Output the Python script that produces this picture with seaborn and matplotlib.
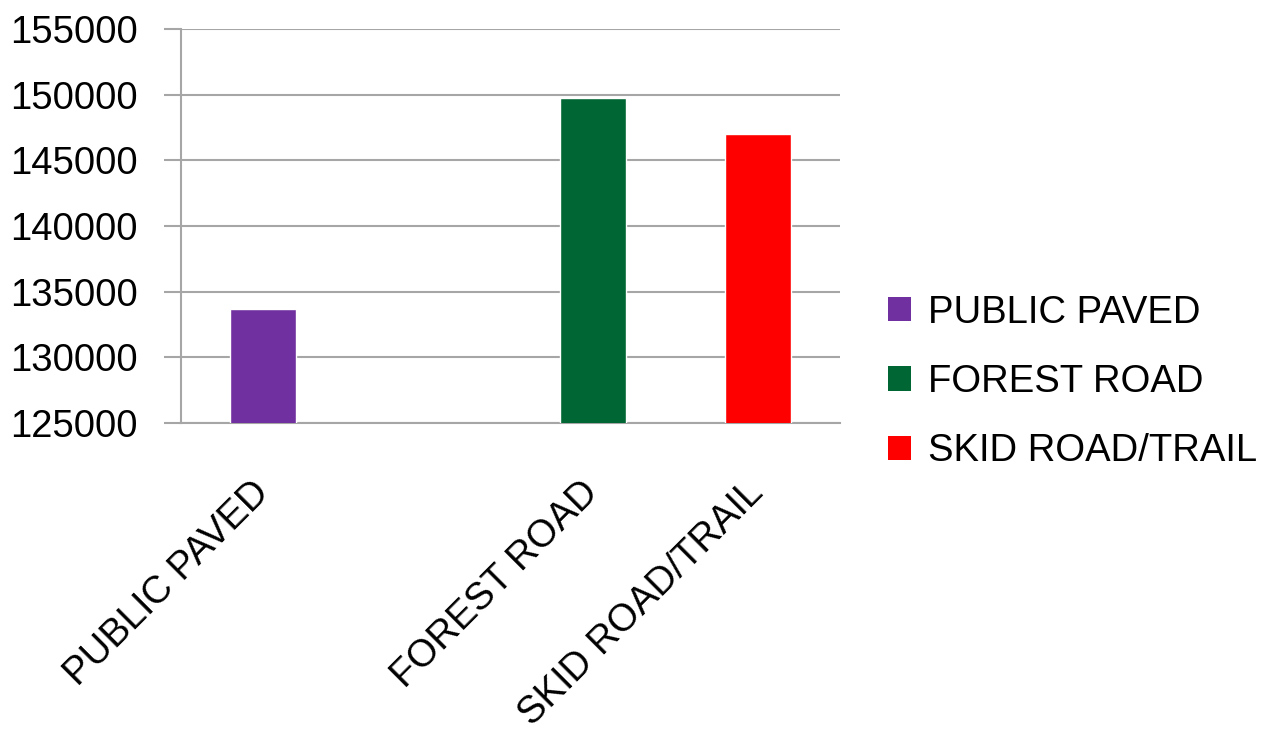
import matplotlib
matplotlib.use("agg")
import matplotlib.pyplot as plt
import seaborn as sns
import pandas as pd
import numpy as np
from matplotlib.patches import Patch

# chart data
categories = ["PUBLIC PAVED", "", "FOREST ROAD", "SKID ROAD/TRAIL"]
series = ["PUBLIC PAVED", "FOREST ROAD", "SKID ROAD/TRAIL"]
values = [133700, 149750, 147000]
colors = ["#7030A0", "#006633", "#FF0000"]
y_ticks = [125000, 130000, 135000, 140000, 145000, 150000, 155000]

sns.set_style("white")
plt.rcParams['font.family'] = ['Liberation Sans', 'DejaVu Sans']
plt.rcParams['text.color'] = 'black'
plt.rcParams['xtick.labelcolor'] = 'black'
plt.rcParams['ytick.labelcolor'] = 'black'

df = pd.DataFrame({"category": series, "value": values, "series": series})

fig = plt.figure(figsize=(12.66, 7.32), dpi=100)
ax = fig.add_axes([0.143, 0.4221, 0.5206, 0.5383])

sns.barplot(data=df, x="category", y="value", hue="series", order=categories,
            hue_order=series, palette=colors, dodge=False, width=0.4,
            saturation=1, legend=False, ax=ax, zorder=3)

grid_c = "#A6A6A6"
ax.set_xlim(-0.5, len(categories) - 0.5)
ax.set_ylim(y_ticks[0], y_ticks[-1])
ax.set_yticks(y_ticks)
ax.set_yticklabels([str(v) for v in y_ticks], fontsize=27.5)
ax.yaxis.grid(True, color=grid_c, linewidth=1.5, zorder=0)
ax.set_axisbelow(True)

ax.set_xticks(range(len(categories)))
ax.set_xticklabels(categories, fontsize=27.5, rotation=45, ha="right",
                   va="center", rotation_mode="anchor")
ax.set_xticks(np.arange(-0.5, len(categories), 1.0), minor=True)
ax.tick_params(axis="x", which="major", length=0, pad=46)
ax.tick_params(axis="x", which="minor", length=12, width=1.5, color=grid_c)
ax.tick_params(axis="y", length=12, width=1.5, color=grid_c, left=True, pad=19)

for s in ["top", "right"]:
    ax.spines[s].set_visible(False)
for s in ["left", "bottom"]:
    ax.spines[s].set_color(grid_c)
    ax.spines[s].set_linewidth(1.5)

ax.set_xlabel("")
ax.set_ylabel("")

handles = [Patch(facecolor=c, edgecolor="none") for c in colors]
fig.legend(handles, series, loc="center left",
           bbox_to_anchor=(0.674, 1 - 382 / 732), frameon=False,
           fontsize=27.5, handlelength=0.6, handleheight=0.6,
           handletextpad=0.45, labelspacing=0.87)

fig.savefig("out.png", dpi=100)
